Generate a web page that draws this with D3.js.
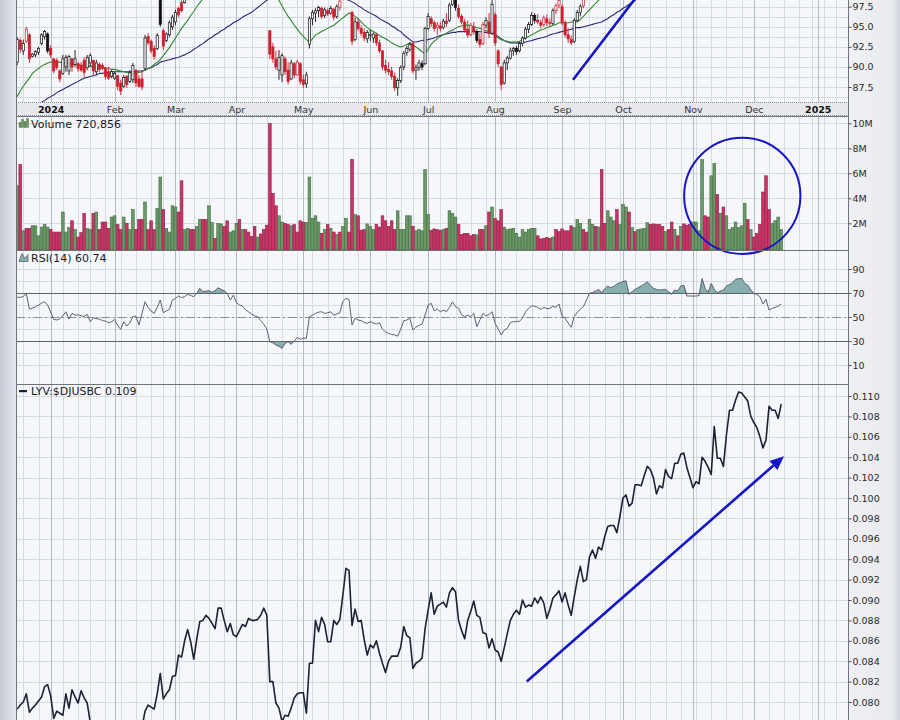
<!DOCTYPE html>
<html><head><meta charset="utf-8">
<script src="https://cdn.jsdelivr.net/npm/d3@7/dist/d3.min.js"></script>
<style>html,body{margin:0;padding:0;background:#fff}svg{display:block}</style>
</head><body>
<svg id="chart" width="900" height="720"></svg>
<script>
// ---------------- DATA ----------------
const holidays = ["2023-12-25","2024-01-01","2024-01-15","2024-02-19","2024-03-29","2024-05-27","2024-06-19","2024-07-04","2024-09-02","2024-11-28","2024-12-25","2025-01-01","2025-01-09","2025-01-20"];
const monthLabels = ["2024","Feb","Mar","Apr","May","Jun","Jul","Aug","Sep","Oct","Nov","Dec","2025"];
const priceTicks = [87.5, 90, 92.5, 95, 97.5];
const volTicks = [2, 4, 6, 8, 10];
const rsiTicks = [10, 30, 50, 70, 90];
const ratioTicks = [0.080,0.082,0.084,0.086,0.088,0.090,0.092,0.094,0.096,0.098,0.100,0.102,0.104,0.106,0.108,0.110];
const titles = {vol: "Volume 720,856", rsi: "RSI(14) 60.74", ratio: "LYV:$DJUSBC 0.109"};

// candles [open, high, low, close]
const ohlc = [
[90.6,93.7,90.2,93.4],[93.3,93.6,91.7,92.2],[92.0,93.4,91.5,92.9],[93.2,95.0,93.0,94.7],[94.0,94.2,90.5,91.0],
[91.3,91.7,91.2,91.6],[91.5,92.1,91.2,91.9],[91.8,92.5,91.5,92.3],[92.9,94.2,92.7,94.0],[93.8,94.6,93.4,94.4],
[94.1,94.3,91.7,92.0],[92.3,92.7,91.1,91.5],[91.0,91.1,89.2,89.5],[90.8,91.1,89.6,89.9],[89.5,89.7,88.1,88.5],
[89.2,91.5,89.0,91.0],[90.0,91.5,89.4,91.2],[89.5,91.5,89.0,91.3],[91.0,91.1,89.4,90.0],[90.3,92.1,90.0,91.0],
[90.4,90.6,89.4,89.8],[90.2,90.6,89.4,89.6],[90.8,91.2,88.7,89.3],[89.9,91.5,89.6,91.2],[90.5,91.7,90.0,91.4],
[90.8,90.9,89.0,89.5],[89.4,90.9,89.0,90.5],[90.3,90.6,89.4,89.7],[90.2,90.5,89.6,89.8],[89.8,90.0,88.4,88.8],
[89.4,90.0,88.4,88.6],[88.8,89.6,88.6,89.4],[88.6,89.4,88.4,89.2],[88.9,89.0,87.1,87.6],[88.0,88.4,86.5,87.0],
[87.6,89.0,87.4,88.7],[88.8,89.0,87.4,87.8],[88.2,89.6,88.0,89.3],[88.4,90.5,88.0,90.2],[89.6,89.7,87.5,88.0],
[88.5,89.0,87.4,87.6],[88.5,89.6,87.1,87.5],[89.8,94.0,89.6,93.6],[93.8,94.2,92.7,93.0],[93.2,93.4,91.7,92.0],
[92.3,92.7,90.9,91.3],[92.3,94.2,92.1,93.9],[98.8,99.2,95.0,95.3],[94.5,94.8,92.1,92.6],[93.3,94.3,93.1,94.1],
[94.0,95.8,93.7,95.5],[95.0,96.5,94.6,96.2],[95.6,97.1,95.2,96.8],[97.3,97.5,96.2,96.5],[98.0,98.3,96.8,97.0],
[98.0,99.4,97.9,99.0],[99.1,100.6,98.9,100.2],[100.0,100.4,98.9,99.3],[99.0,99.6,98.5,98.9],[99.0,100.8,98.8,100.5],
[100.6,102.0,100.3,101.7],[101.5,102.2,101.0,101.4],[101.6,102.6,101.2,102.3],[102.2,103.3,101.8,103.0],[103.0,103.2,102.0,102.4],
[102.5,103.5,102.0,103.2],[103.3,104.6,103.0,104.3],[104.2,104.5,103.2,103.6],[103.5,103.9,102.8,103.2],[103.0,103.4,102.1,102.5],
[102.4,102.8,100.9,101.2],[101.4,102.4,101.0,102.0],[102.0,102.3,100.8,101.1],[101.0,101.5,100.4,100.8],[100.9,101.3,100.2,100.6],
[100.5,100.8,99.6,99.9],[99.9,100.3,99.3,99.6],[99.7,100.0,99.1,99.4],[99.4,99.8,98.9,99.2],[99.2,99.7,98.8,99.1],
[99.0,99.3,98.6,98.8],[98.9,99.1,98.5,98.7],[98.8,99.0,98.4,98.5],[94.5,94.6,91.0,91.6],[92.5,93.0,90.5,91.0],
[91.0,92.0,89.6,90.0],[89.6,92.1,88.4,91.2],[89.0,91.7,88.1,91.4],[91.0,91.3,89.0,89.4],[89.6,90.6,87.8,88.2],
[88.5,90.9,88.4,90.5],[90.4,90.6,88.6,89.0],[89.0,90.9,88.9,90.6],[90.4,90.6,87.8,88.2],[88.4,89.0,87.4,87.8],
[87.9,89.4,87.4,89.0],[92.8,96.3,92.3,96.0],[96.0,97.1,95.2,96.8],[96.7,97.3,95.6,97.0],[97.0,97.6,96.2,97.4],
[97.3,97.5,96.0,96.3],[96.4,97.4,96.1,97.1],[97.0,97.3,96.3,96.6],[96.7,97.6,96.5,97.3],[97.2,97.3,95.8,96.2],
[96.3,97.8,96.0,97.5],[97.4,98.5,97.0,98.2],[98.4,99.6,98.3,99.3],[99.3,100.6,99.0,100.3],[100.2,100.5,99.4,99.8],
[96.8,97.0,92.7,93.2],[93.4,96.1,93.2,95.6],[95.6,96.0,94.5,94.8],[94.8,95.2,93.8,94.2],[94.3,94.8,93.2,93.6],
[93.5,94.6,93.0,94.3],[94.0,94.6,93.2,94.0],[93.6,94.3,93.0,94.1],[94.0,94.2,92.6,93.0],[93.0,93.4,91.7,92.0],
[92.0,92.1,89.6,90.0],[90.2,90.9,89.2,89.6],[89.7,90.6,89.0,89.4],[89.5,90.0,88.4,88.8],[88.8,89.3,87.0,87.4],
[87.4,88.6,86.4,88.3],[88.3,90.2,88.0,89.9],[90.0,92.0,89.6,91.7],[91.8,92.6,91.4,92.3],[92.2,93.1,91.9,92.8],
[92.9,93.1,89.2,89.5],[89.6,90.3,88.4,89.9],[89.9,90.9,89.5,90.5],[90.4,90.8,89.6,90.0],[90.4,95.0,90.2,94.8],
[94.8,96.7,94.6,96.3],[96.0,96.3,95.0,95.4],[95.5,95.8,94.4,94.8],[94.9,95.6,94.0,95.2],[95.1,95.6,94.4,94.8],
[94.9,96.0,94.7,95.7],[95.7,96.7,95.0,95.4],[95.8,98.0,95.6,97.7],[97.8,99.0,97.6,98.7],[98.6,98.9,97.0,97.4],
[97.3,97.8,96.0,96.3],[96.3,96.6,95.3,95.6],[95.6,96.0,94.3,94.6],[94.7,95.8,93.6,94.0],[94.0,95.5,93.8,95.2],
[95.0,95.6,94.0,94.4],[94.4,94.7,93.0,93.3],[93.4,94.2,92.4,92.8],[92.9,95.6,92.7,95.3],[95.2,96.2,94.8,95.8],
[95.6,96.7,93.6,94.2],[94.2,98.4,94.0,97.8],[96.5,96.8,92.6,93.0],[92.0,92.2,90.0,90.4],[90.0,90.1,87.1,87.8],
[88.0,90.9,87.8,90.5],[90.5,91.4,89.6,91.1],[91.1,92.4,90.9,92.0],[92.0,92.5,91.4,92.3],[92.3,92.6,91.5,91.9],
[92.0,93.1,91.8,92.9],[92.9,93.8,92.6,93.6],[93.6,95.0,93.4,94.7],[94.7,95.6,94.2,95.3],[95.3,96.8,95.1,96.4],
[96.4,96.7,95.4,95.8],[95.8,96.6,95.3,95.6],[95.5,95.9,94.8,95.2],[95.3,96.4,95.0,96.1],[96.0,96.5,95.1,95.5],
[95.5,96.0,95.0,95.4],[95.4,97.3,95.2,97.0],[97.0,97.9,96.6,97.6],[97.7,98.6,97.3,98.3],[97.5,97.8,95.2,95.5],
[95.5,95.8,93.7,94.0],[94.0,94.8,93.0,93.5],[93.4,93.9,92.7,93.0],[93.2,96.1,93.0,95.8],[95.8,97.1,95.6,96.8],
[96.8,97.8,96.3,97.5],[97.6,98.8,97.3,98.5],[98.5,99.6,98.3,99.3],[99.4,100.8,99.0,100.5],[100.5,101.6,100.2,101.3],
[101.3,101.8,100.6,101.0],[101.0,102.4,100.8,102.1],[102.0,102.3,100.9,101.4],[101.5,103.4,101.3,103.1],[103.1,104.6,102.9,104.3],
[104.3,105.0,103.8,104.5],[104.5,105.6,104.2,105.3],[105.3,106.4,104.9,106.1],[106.1,107.4,105.8,107.0],[107.0,108.2,106.7,108.0],
[108.0,109.0,107.6,108.7],[108.5,108.8,106.5,106.9],[106.9,107.9,106.6,107.6],[107.6,109.0,107.3,108.7],[108.7,109.6,108.4,109.3],
[109.3,110.4,109.0,110.1],[110.1,111.2,109.8,110.9],[110.9,112.1,110.6,111.8],[111.8,112.0,110.8,111.2],[111.2,111.6,110.3,110.7],
[110.7,111.0,109.8,110.3],[110.3,111.3,110.0,111.0],[111.0,111.5,110.4,111.2],[111.2,112.3,111.0,112.0],[112.0,112.4,111.2,111.6],
[111.6,112.0,110.9,111.3],[111.3,112.5,111.1,112.2],[112.2,112.6,111.5,111.9],[111.9,113.4,111.7,113.1],[113.1,113.6,112.5,112.9],
[112.9,113.2,111.9,112.4],[112.4,112.8,111.8,112.3],[112.3,113.5,112.0,113.2],[113.2,114.0,112.8,113.7],[113.7,114.2,113.2,113.9],
[118.0,126.0,117.5,125.2],[125.2,125.8,123.6,124.1],[124.1,124.6,122.8,123.3],[123.5,128.0,123.2,127.6],[127.6,129.4,126.9,128.8],
[128.8,129.0,126.5,127.0],[127.0,128.8,126.8,128.4],[128.4,128.9,126.9,127.4],[127.4,129.6,127.2,129.3],[129.3,131.0,129.0,130.6],
[130.6,131.6,130.2,131.3],[131.3,132.8,131.0,132.5],[132.5,133.6,132.0,133.3],[133.3,133.8,132.6,133.4],[133.4,134.5,133.0,134.2],
[134.0,134.3,132.8,133.2],[133.2,134.0,132.9,133.6],[133.6,133.9,132.4,132.8],[132.8,133.1,131.9,132.3],[132.3,132.6,131.0,131.4],
[131.4,131.7,129.0,129.5],[129.5,129.8,127.9,128.3],[128.3,128.6,127.0,127.4],[127.4,128.9,127.2,128.6],[128.6,129.6,128.3,129.3],
[129.3,130.4,129.0,130.1],[130.1,130.9,129.8,130.5]
];

// moving averages (green = short, blue = long)
const maShort = [
86.3,87.0,87.6,88.1,88.6,89.2,89.5,89.8,90.1,90.3,
90.5,90.6,90.6,90.6,90.6,90.5,90.5,90.4,90.4,90.3,
90.3,90.2,90.2,90.1,90.1,90.0,90.0,90.0,89.9,89.9,
89.8,89.7,89.7,89.6,89.5,89.4,89.3,89.2,89.2,89.2,
89.3,89.4,89.6,89.8,90.0,90.3,90.6,90.9,91.4,91.9,
92.4,93.0,93.6,94.2,94.8,95.3,95.8,96.4,96.9,97.5,
98.0,98.5,99.0,99.5,100.0,100.5,101.0,101.4,101.8,102.1,
102.4,102.6,102.7,102.8,102.8,102.7,102.5,102.2,101.9,101.5,
101.1,100.7,100.3,99.8,99.3,98.8,98.3,97.6,96.9,96.3,
95.8,95.2,94.7,94.2,93.8,93.4,93.1,93.5,94.0,94.2,
94.4,94.6,94.8,95.0,95.2,95.5,95.8,96.1,96.4,96.7,
96.6,96.3,96.0,95.6,95.2,94.9,94.6,94.4,94.2,93.9,
93.7,93.5,93.3,93.0,92.8,92.6,92.5,92.6,92.8,93.0,
92.7,92.5,92.2,91.9,91.7,92.2,92.8,93.2,93.5,93.8,
94.0,94.2,94.4,94.6,94.8,95.0,95.1,95.2,95.2,95.1,
95.0,94.9,94.8,94.6,94.5,94.4,94.4,94.0,93.6,93.4,
93.3,93.2,93.1,93.1,93.1,93.2,93.4,93.6,93.8,94.0,
94.2,94.4,94.6,94.7,94.9,95.0,95.2,95.3,95.5,95.5,
95.5,95.5,95.6,95.6,95.6,95.9,96.3,96.7,97.1,97.5,
97.9,98.3,98.8,99.3,99.8,100.3,100.9,101.5,102.1,102.8,
103.5,104.2,104.9,105.6,106.3,107.0,107.7,108.4,109.1,109.8,
110.5,111.2,111.9,112.6,113.3,114.0,114.7,115.4,116.1,116.8,
117.5,118.2,119.0,120.0,121.0,122.0,123.0,124.0,125.0,126.0,
127.0,128.0,128.8,129.6,130.4,131.2,132.0,132.8,133.5,134.2,
134.8,135.4,136.0,136.5,137.0,137.4,137.8,138.1,138.4,138.6,
138.8,139.0];
const maLong = [
83.2,83.5,83.8,84.1,84.4,84.7,85.0,85.3,85.6,85.8,
86.1,86.3,86.5,86.8,87.0,87.2,87.4,87.6,87.8,88.0,
88.2,88.4,88.6,88.7,88.8,88.9,89.0,89.2,89.2,89.3,
89.3,89.4,89.4,89.4,89.4,89.4,89.4,89.4,89.4,89.4,
89.5,89.5,89.6,89.8,89.9,90.1,90.3,90.6,90.7,90.8,
90.9,91.0,91.1,91.2,91.35,91.5,91.7,91.9,92.2,92.4,
92.7,92.9,93.2,93.5,93.7,94.0,94.2,94.5,94.7,95.0,
95.2,95.5,95.7,95.9,96.2,96.4,96.6,96.8,97.1,97.4,
97.7,98.0,98.3,98.5,98.7,98.9,99.0,99.1,99.2,99.3,
99.3,99.4,99.4,99.4,99.4,99.4,99.4,99.4,99.4,99.3,
99.3,99.2,99.2,99.1,99.0,98.9,98.7,98.6,98.4,98.3,
98.1,97.9,97.6,97.4,97.1,96.9,96.7,96.5,96.3,96.0,
95.8,95.6,95.4,95.1,94.9,94.6,94.4,94.0,93.7,93.4,
93.1,93.1,93.2,93.3,93.35,93.4,93.5,93.6,93.8,93.9,
94.0,94.1,94.2,94.3,94.3,94.4,94.4,94.4,94.4,94.4,
94.4,94.4,94.4,94.3,94.3,94.2,94.2,94.0,93.8,93.5,
93.3,93.1,93.0,93.0,93.0,93.0,93.0,93.1,93.2,93.3,
93.4,93.5,93.6,93.7,93.8,94.0,94.1,94.2,94.3,94.4,
94.5,94.6,94.7,94.8,94.9,94.9,95.0,95.1,95.2,95.3,
95.4,95.5,95.6,95.8,96.0,96.3,96.5,96.8,97.0,97.3,
97.5,97.8,98.0,98.3,98.6,98.9,99.2,99.5,99.8,100.1,
100.4,100.8,101.2,101.6,102.0,102.4,102.8,103.2,103.6,104.0,
104.4,104.8,105.2,105.6,106.0,106.5,107.0,107.5,108.0,108.5,
109.0,109.5,110.0,110.5,111.0,111.5,112.0,112.5,113.0,113.5,
114.0,114.5,115.0,115.5,116.0,116.5,117.0,117.4,117.8,118.2,
118.6,119.0];

// volume in millions, and up/down day flags
const volume = [
5.0,6.7,1.4,1.6,1.6,1.8,1.8,1.0,1.7,1.9,
1.7,1.5,1.3,1.3,1.3,2.9,1.3,1.65,2.2,1.5,
0.9,1.25,2.8,1.6,1.5,2.8,2.9,1.5,2.1,2.1,
1.6,2.5,2.6,1.9,1.5,2.5,2.0,1.5,3.1,1.5,
2.3,2.3,3.7,1.5,2.2,1.5,3.2,5.7,3.1,1.6,
1.3,3.4,3.3,2.9,5.4,1.5,1.6,1.5,1.5,1.75,
2.3,2.3,2.3,3.4,2.05,0.8,2.0,1.95,1.75,2.2,
1.3,1.4,2.0,2.3,1.5,1.5,1.3,0.95,1.75,0.9,
1.15,1.5,1.85,10.0,4.4,3.4,2.6,2.1,2.0,1.9,
1.8,1.9,1.3,2.2,2.1,2.05,5.7,2.4,2.6,2.1,
1.2,1.5,1.9,1.6,1.3,1.1,1.3,1.75,2.4,1.3,
7.1,2.7,2.6,1.45,1.5,1.95,1.75,1.5,1.9,1.7,
2.6,2.2,1.75,2.2,1.5,3.0,1.5,1.5,2.6,2.6,
1.75,1.4,1.5,1.4,6.3,2.7,1.45,1.55,1.5,1.45,
1.5,1.6,3.0,2.8,2.5,1.9,1.1,1.2,1.2,1.0,
1.1,1.07,1.5,1.5,1.8,2.9,3.3,2.4,2.2,3.1,
1.7,1.5,1.55,1.6,1.2,0.9,1.5,1.3,1.5,1.6,
1.6,1.0,0.75,0.8,0.85,0.8,0.9,1.5,1.33,1.55,
1.4,1.4,1.8,1.65,2.3,2.0,1.5,1.3,2.3,1.9,
1.75,1.7,6.3,2.0,3.0,2.5,2.2,3.1,1.9,3.5,
3.3,2.9,1.65,1.33,1.5,1.55,1.6,2.05,1.9,1.95,
1.9,1.9,1.75,1.33,1.5,2.1,1.5,1.0,1.75,1.95,
1.85,1.9,2.1,2.1,1.4,7.1,2.6,2.5,5.8,6.8,
4.3,2.8,3.3,2.6,1.5,1.65,2.1,1.65,1.8,3.6,
2.3,1.5,0.9,1.2,1.9,4.5,5.8,3.1,2.0,2.2,
2.5,1.5];
const dayDir = ("grgrrggggg"+"grrrrgggrg"+"rrrggrgrrr"+"rggrrgrggr"+"rrgrrrggrg"+
  "gggrrggrrg"+"grrggrggrr"+"gggrgrrrrg"+"rrrrrrggrr"+"grrrrggggg"+
  "rgrgrgrggr"+"rgrrrgggrr"+"rrrrrggggg"+"rgggggrrrr"+"grgggrrrrr"+
  "rgrrgrgrrr"+"gggggggggg"+"grrrrrgrrr"+"rrrgggrrgg"+"rgrrgggrgg"+
  "grgrggggrr"+"rrrgrrgrgr"+"rrggggrrgg"+"rgrggggggg"+"rgrrrrrrgg"+"gg").split("");

const rsi = [
66.4,66.4,67,69.7,56.4,57.5,58.5,60,61.5,62.7,
60,54,48,47.5,48.5,51,54.4,48.3,53,51.5,
51.8,51,50.5,52.2,46,49.4,48.6,48.3,47,46.5,
45.2,46,48,43,39.7,46,42.5,45,50.3,50.8,
43.3,53,62.7,58,55,53,58,64.1,53.6,55,
56.4,64.1,65.5,67.5,66.1,67,68.8,68,66.9,69.7,
73.9,71.1,71.5,71.9,70.5,72,74.4,73,71.9,69.7,
64.1,68.3,62,60,59.1,56,54.4,52.5,51,50.3,
46.9,44,40,29.4,28.5,26.6,25.5,23.9,28,29.4,
27.2,30,33,31.4,32.5,32.2,50.3,51.5,53,54,
54.4,53,53.5,54.4,51.6,52.5,53.6,63,65.5,64.7,
43.3,48.9,47.5,46.9,45.5,44.7,46.1,45,44.1,45.2,
40,37.5,36.4,35.5,35,34.1,40,46.9,47.5,48.9,
39.1,41.5,43,44.1,51.6,60,61.4,55.2,56.4,54.4,
55.8,54.4,58,62.7,58.6,57.2,52,50.3,51.6,50.3,
53,41.9,47.5,53,51,52,54.4,44.7,40,35,
39.1,40.5,45.2,46.1,46.1,46.5,48.9,54.4,57,59.4,
59,58,56.4,58,57,57.2,59.1,58,60.8,50.8,
48.9,45,41.4,50.3,54,56.4,58.6,64.1,69.7,70.5,
71.5,73,70.2,73.5,75.8,74.4,75.5,77.5,78.5,79.5,
80.2,68.9,71.1,73,74.5,75.8,77.5,79.4,76.5,73.9,
73,72.5,72.8,73,71.1,68.9,72.5,71.9,75.8,76.6,
67.5,67.5,67.5,67.5,67.8,82.2,73.9,70.5,78,73,
70.2,71.5,72.5,75.8,77,78.6,81.4,82,82.2,78,
76.6,72.5,69.5,68.9,66.9,60.8,64.7,55.8,57.2,58,
59.1,60.74];

const ratio = [
0.0793,0.0797,0.0800,0.0808,0.0790,0.0794,0.0797,0.0801,0.0805,0.0815,
0.0817,0.0806,0.0784,0.0791,0.0789,0.0787,0.0808,0.0794,0.0812,0.0805,
0.0799,0.0811,0.0804,0.0799,0.0780,0.0772,0.0768,0.0765,0.0770,0.0762,
0.0758,0.0763,0.0760,0.0755,0.0750,0.0753,0.0758,0.0762,0.0767,0.0765,
0.0770,0.0775,0.0791,0.0797,0.0795,0.0793,0.0808,0.0828,0.0803,0.0808,
0.0812,0.0825,0.0826,0.0846,0.0844,0.0860,0.0871,0.0859,0.0842,0.0862,
0.0879,0.0880,0.0885,0.0882,0.0877,0.0872,0.0892,0.0892,0.0880,0.0869,
0.0877,0.0866,0.0864,0.0870,0.0876,0.0874,0.0882,0.0880,0.0880,0.0881,
0.0885,0.0892,0.0885,0.0820,0.0820,0.0799,0.0794,0.0781,0.0787,0.0786,
0.0794,0.0804,0.0808,0.0809,0.0809,0.0789,0.0838,0.0838,0.0880,0.0869,
0.0883,0.0876,0.0859,0.0859,0.0880,0.0876,0.0881,0.0905,0.0931,0.0929,
0.0875,0.0891,0.0879,0.0880,0.0861,0.0846,0.0856,0.0853,0.0860,0.0848,
0.0838,0.0829,0.0840,0.0845,0.0845,0.0845,0.0854,0.0874,0.0865,0.0863,
0.0833,0.0838,0.0840,0.0843,0.0872,0.0890,0.0907,0.0886,0.0894,0.0896,
0.0898,0.0893,0.0907,0.0912,0.0908,0.0880,0.0870,0.0862,0.0880,0.0889,
0.0899,0.0885,0.0883,0.0868,0.0867,0.0853,0.0862,0.0851,0.0849,0.0840,
0.0853,0.0867,0.0880,0.0886,0.0890,0.0886,0.0900,0.0893,0.0895,0.0894,
0.0902,0.0897,0.0903,0.0897,0.0882,0.0891,0.0902,0.0905,0.0909,0.0898,
0.0907,0.0895,0.0885,0.0903,0.0920,0.0933,0.0918,0.0920,0.0942,0.0949,
0.0941,0.0952,0.0949,0.0962,0.0972,0.0973,0.0973,0.0966,0.0982,0.1000,
0.1003,0.0992,0.0995,0.1013,0.1013,0.1012,0.1022,0.1031,0.1028,0.1020,
0.1004,0.1012,0.1010,0.1028,0.1021,0.1019,0.1034,0.1034,0.1043,0.1044,
0.1030,0.1020,0.1010,0.1016,0.1014,0.1040,0.1036,0.1030,0.1023,0.1070,
0.1039,0.1039,0.1031,0.1062,0.1086,0.1086,0.1096,0.1104,0.1103,0.1099,
0.1095,0.1080,0.1074,0.1069,0.1060,0.1049,0.1057,0.1090,0.1086,0.1086,
0.1078,0.1092];

// annotations in data coordinates: [dayIndex, value]
const priceTrend = [[182.8, 88.5], [204, 99.0]];
const volCircle = {center: [238.2, 4.2], radiusDays: 19.1};
const ratioArrow = [[167.4, 0.0820], [251.9, 0.1041]];

// ---------------- LAYOUT ----------------
const svg = d3.select('#chart');
const FONT = '"DejaVu Sans", Verdana, sans-serif';
const L = 16, R = 848;
const C = {panel:'#f6f7fa', grid:'#d6dae2', gridMonth:'#b4b9c4', border:'#6f747e',
  red:'#cc1f2c', black:'#111', volG:'#6a9a68', volGs:'#41683f', volR:'#c93567', volRs:'#8b1d42',
  maS:'#2f8a2f', maL:'#2b2b7a', ann:'#1616c4', rsi:'#5b6272', rsiFill:'#88afae', ratio:'#1b2234'};

// trading calendar (for grid lines / month labels)
const days = [];
{ let d = new Date(Date.UTC(2023, 11, 14));
  while (days.length < 280) { const s = d.toISOString().slice(0,10), w = d.getUTCDay();
    if (w > 0 && w < 6 && !holidays.includes(s)) days.push(new Date(d));
    d.setUTCDate(d.getUTCDate() + 1); } }
const wk = d => Math.floor((d.getTime()/86400000 + 3) / 7);
const monthIdx = [], weekIdx = [];
for (let i = 1; i < days.length && i <= 273; i++) {
  if (days[i].getUTCMonth() !== days[i-1].getUTCMonth()) monthIdx.push(i);
  else if (wk(days[i]) !== wk(days[i-1])) weekIdx.push(i);
}

const x = d3.scaleLinear().domain([0, 273]).range([17.2, 848.2]);
const yP = d3.scaleLinear().domain([87.5, 97.5]).range([87, 6.7]);
const yV = d3.scaleLinear().domain([0, 10]).range([248.3, 123.3]);
const yR = d3.scaleLinear().domain([0, 100]).range([377, 257]);
const yQ = d3.scaleLinear().domain([0.080, 0.110]).range([702, 396]);

// backgrounds
const defs = svg.append('defs');
const lg = defs.append('linearGradient').attr('id','lstrip').attr('x1',0).attr('x2',1);
lg.append('stop').attr('offset','0%').attr('stop-color','#c4c9d2');
lg.append('stop').attr('offset','100%').attr('stop-color','#e4e7ec');
const rg = defs.append('linearGradient').attr('id','rstrip').attr('x1',0).attr('x2',1);
rg.append('stop').attr('offset','0%').attr('stop-color','#eef0f3');
rg.append('stop').attr('offset','85%').attr('stop-color','#e9ebef');
rg.append('stop').attr('offset','100%').attr('stop-color','#cfd3da');
svg.append('rect').attr('width',900).attr('height',720).attr('fill','#eceef2');
svg.append('rect').attr('x',0).attr('y',0).attr('width',L).attr('height',720).attr('fill','url(#lstrip)');
svg.append('rect').attr('x',R).attr('y',0).attr('width',900-R).attr('height',720).attr('fill','url(#rstrip)');

const panels = {
  price: {y0:-30, y1:102, grid: d3.range(85, 100, 1.25), yScale: yP},
  vol:   {y0:116, y1:250, grid: [2,4,6,8,10], yScale: yV},
  rsi:   {y0:250, y1:384, grid: d3.range(10, 100, 10), yScale: yR},
  ratio: {y0:384, y1:740, grid: d3.range(0.076, 0.1125, 0.002), yScale: yQ}
};
const crisp = v => Math.round(v) + 0.5;
Object.entries(panels).forEach(([k, p]) => {
  const g = svg.append('g');
  g.append('rect').attr('x',L).attr('y',p.y0).attr('width',R-L).attr('height',p.y1-p.y0).attr('fill',C.panel);
  defs.append('clipPath').attr('id','clip-'+k).append('rect')
    .attr('x',L).attr('y',p.y0).attr('width',R-L).attr('height',p.y1-p.y0);
  const gg = g.append('g').attr('clip-path',`url(#clip-${k})`).attr('shape-rendering','crispEdges');
  gg.selectAll('line.h').data(p.grid).join('line')
    .attr('x1',L).attr('x2',R).attr('y1',d=>crisp(p.yScale(d))).attr('y2',d=>crisp(p.yScale(d)))
    .attr('stroke',C.grid).attr('stroke-width',1);
  gg.selectAll('line.w').data(weekIdx).join('line')
    .attr('x1',d=>crisp(x(d))).attr('x2',d=>crisp(x(d))).attr('y1',p.y0).attr('y2',p.y1)
    .attr('stroke',C.grid);
  gg.selectAll('line.m').data(monthIdx).join('line')
    .attr('x1',d=>crisp(x(d))).attr('x2',d=>crisp(x(d))).attr('y1',p.y0).attr('y2',p.y1)
    .attr('stroke',C.gridMonth);
  p.g = g; p.clip = `url(#clip-${k})`;
});

// ---------- PRICE PANEL ----------
{
  const g = svg.append('g').attr('clip-path', panels.price.clip);
  const lineMA = d3.line().x((d,i)=>x(i)).y(d=>yP(d));
  g.append('path').attr('d', lineMA(maLong)).attr('fill','none').attr('stroke',C.maL).attr('stroke-width',1.1);
  g.append('path').attr('d', lineMA(maShort)).attr('fill','none').attr('stroke',C.maS).attr('stroke-width',1.1);
  const cw = 2.2;
  const cg = g.selectAll('g.c').data(ohlc).join('g');
  cg.append('line').attr('x1',(d,i)=>x(i)).attr('x2',(d,i)=>x(i))
    .attr('y1',d=>yP(d[1])).attr('y2',d=>yP(d[2]))
    .attr('stroke',(d,i)=>dayDir[i]==='r'?C.red:C.black).attr('stroke-width',0.9);
  cg.append('rect').attr('x',(d,i)=>x(i)-cw/2).attr('width',cw)
    .attr('y',d=>yP(Math.max(d[0],d[3])))
    .attr('height',d=>Math.max(0.8, Math.abs(yP(d[0])-yP(d[3]))))
    .attr('fill',(d,i)=> d[3]>=d[0] ? C.panel : (dayDir[i]==='r'?C.red:C.black))
    .attr('stroke',(d,i)=>dayDir[i]==='r'?C.red:C.black).attr('stroke-width',0.7);
  g.append('line')
    .attr('x1',x(priceTrend[0][0])).attr('y1',yP(priceTrend[0][1]))
    .attr('x2',x(priceTrend[1][0])).attr('y2',yP(priceTrend[1][1]))
    .attr('stroke',C.ann).attr('stroke-width',2.6).attr('stroke-linecap','round');
}

// ---------- X AXIS BAND ----------
{
  svg.append('rect').attr('x',L).attr('y',102).attr('width',R-L).attr('height',14).attr('fill','#e6e8ec');
  [102.5, 115.5].forEach(yy => {
    svg.append('line').attr('x1',L).attr('x2',R).attr('y1',yy).attr('y2',yy)
      .attr('stroke','#8a8e96').attr('stroke-dasharray','1,1');
  });
  const ax = svg.append('g').attr('transform','translate(0,102)')
    .call(d3.axisBottom(x).tickValues(monthIdx).tickSize(0).tickPadding(4).tickFormat((d,k)=>monthLabels[k]));
  ax.select('.domain').remove();
  ax.attr('font-family',FONT).attr('font-size',9.5);
  ax.selectAll('text')
    .attr('font-weight',(d,k)=> monthLabels[k].length===4 ? 'bold' : 'normal')
    .attr('fill',(d,k)=> monthLabels[k].length===4 ? '#111' : '#333');
}

// ---------- VOLUME ----------
{
  const g = svg.append('g').attr('clip-path', panels.vol.clip);
  const bw = 2.7;
  g.selectAll('rect.v').data(volume).join('rect')
    .attr('x',(d,i)=>x(i)-bw/2).attr('width',bw)
    .attr('y',d=>yV(d)).attr('height',d=>250-yV(d))
    .attr('fill',(d,i)=>dayDir[i]==='r'?C.volR:C.volG)
    .attr('stroke',(d,i)=>dayDir[i]==='r'?C.volRs:C.volGs).attr('stroke-width',0.6);
  const cx = x(volCircle.center[0]), cy = yV(volCircle.center[1]);
  const r = x(volCircle.center[0] + volCircle.radiusDays) - cx;
  svg.append('circle').attr('cx',cx).attr('cy',cy).attr('r',r)
    .attr('fill','none').attr('stroke',C.ann).attr('stroke-width',2);
}

// ---------- RSI ----------
{
  const g = svg.append('g').attr('clip-path', panels.rsi.clip);
  const areaHi = d3.area().x((d,i)=>x(i)).y0(yR(70)).y1(d=>yR(Math.max(d,70)));
  const areaLo = d3.area().x((d,i)=>x(i)).y0(yR(30)).y1(d=>yR(Math.min(d,30)));
  g.append('path').attr('d',areaHi(rsi)).attr('fill',C.rsiFill);
  g.append('path').attr('d',areaLo(rsi)).attr('fill',C.rsiFill);
  [70,30].forEach(v => g.append('line').attr('x1',L).attr('x2',R)
    .attr('y1',crisp(yR(v))).attr('y2',crisp(yR(v))).attr('stroke','#5f636b').attr('stroke-width',1));
  g.append('line').attr('x1',L).attr('x2',R).attr('y1',crisp(yR(50))).attr('y2',crisp(yR(50)))
    .attr('stroke','#8a8e96').attr('stroke-dasharray','9,3,2,3');
  g.append('path').attr('d', d3.line().x((d,i)=>x(i)).y(d=>yR(d))(rsi))
    .attr('fill','none').attr('stroke',C.rsi).attr('stroke-width',1);
}

// ---------- RATIO ----------
{
  const g = svg.append('g').attr('clip-path', panels.ratio.clip);
  g.append('path').attr('d', d3.line().x((d,i)=>x(i)).y(d=>yQ(d))(ratio))
    .attr('fill','none').attr('stroke',C.ratio).attr('stroke-width',1.6).attr('stroke-linejoin','round');
  const [a, b] = ratioArrow;
  const x1 = x(a[0]), y1 = yQ(a[1]), x2 = x(b[0]), y2 = yQ(b[1]);
  const ang = Math.atan2(y2-y1, x2-x1), hl = 14, hw = 6;
  const bx = x2 - hl*Math.cos(ang), by = y2 - hl*Math.sin(ang);
  g.append('line').attr('x1',x1).attr('y1',y1).attr('x2',bx).attr('y2',by)
    .attr('stroke',C.ann).attr('stroke-width',2.6);
  g.append('path').attr('d', d3.line()([[x2,y2],[bx - hw*Math.sin(ang), by + hw*Math.cos(ang)],[bx + hw*Math.sin(ang), by - hw*Math.cos(ang)]]) + 'Z')
    .attr('fill',C.ann);
}

// ---------- BORDERS ----------
svg.append('line').attr('x1',L+0.5).attr('x2',L+0.5).attr('y1',0).attr('y2',720).attr('stroke',C.border);
svg.append('line').attr('x1',R+0.5).attr('x2',R+0.5).attr('y1',0).attr('y2',720).attr('stroke',C.border);
[116, 250, 384].forEach(yy => svg.append('line').attr('x1',L).attr('x2',R+1).attr('y1',yy+0.5).attr('y2',yy+0.5).attr('stroke',C.border));

// ---------- RIGHT AXES ----------
function rightAxis(scale, ticks, fmt) {
  const a = svg.append('g').attr('transform',`translate(${R+0.5},0)`)
    .call(d3.axisRight(scale).tickValues(ticks).tickSize(3).tickPadding(1).tickFormat(fmt));
  a.select('.domain').remove();
  a.attr('font-family',FONT).attr('font-size',9.5);
  a.selectAll('text').attr('fill','#2a2a2a');
  a.selectAll('line').attr('stroke','#555');
}
rightAxis(yP, priceTicks, d3.format('.1f'));
rightAxis(yV, volTicks, d => d + 'M');
rightAxis(yR, rsiTicks, d3.format('d'));
rightAxis(yQ, ratioTicks, d3.format('.3f'));

// ---------- PANEL TITLES ----------
function title(y, text, icon) {
  const g = svg.append('g');
  if (icon === 'vol') {
    [[19,5],[21.5,8],[24,6],[26.5,9]].forEach(([ix,h]) => g.append('rect').attr('x',ix).attr('y',y-h).attr('width',2).attr('height',h).attr('fill',C.volG).attr('stroke',C.volGs).attr('stroke-width',0.4));
  } else if (icon === 'rsi') {
    g.append('path').attr('d',`M19,${y} L22,${y-8} L25,${y-3} L28,${y-7} L28,${y} Z`).attr('fill',C.rsiFill).attr('stroke',C.rsi).attr('stroke-width',0.8);
  } else {
    g.append('rect').attr('x',19).attr('y',y-5).attr('width',8).attr('height',2.2).attr('fill',C.ratio);
  }
  g.append('text').attr('x',31).attr('y',y).attr('font-family',FONT).attr('font-size',11)
    .attr('fill','#1a1a1a').text(text);
}
title(127.5, titles.vol, 'vol');
title(261.5, titles.rsi, 'rsi');
title(395, titles.ratio, 'ratio');
</script>
</body></html>
